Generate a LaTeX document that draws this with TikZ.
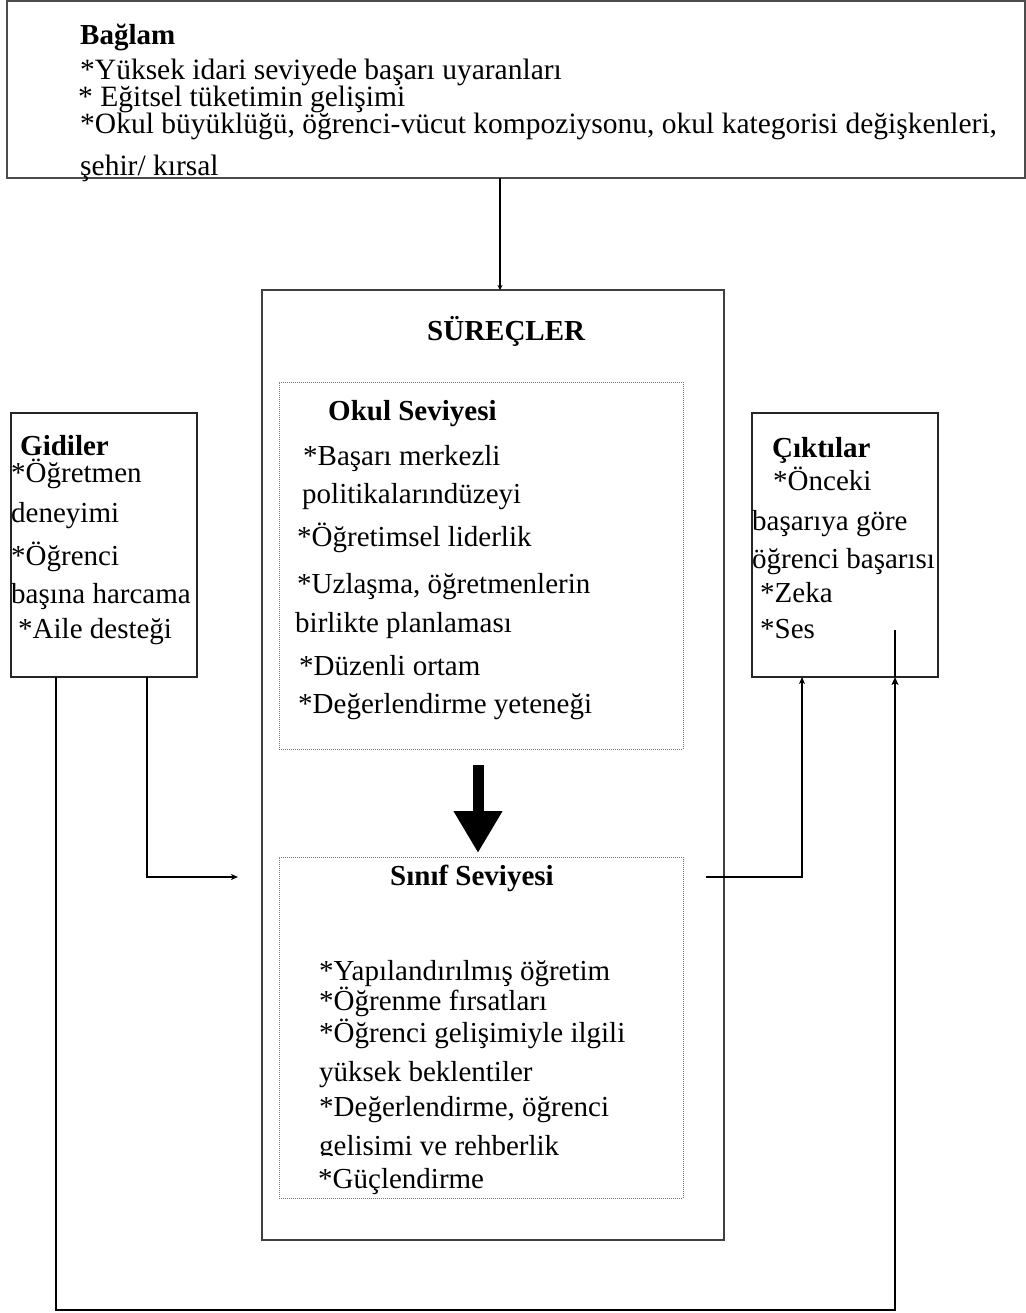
\documentclass[tikz,border=0pt]{standalone}
\usepackage{fontspec}
\setmainfont{Liberation Serif}
\usetikzlibrary{arrows.meta, positioning, calc}

\begin{document}
\begin{tikzpicture}[x=1pt, y=-1pt,
  frame/.style={draw=black!85, line width=1.2pt, outer sep=0pt, inner sep=0pt},
  dotbox/.style={draw=black!55, densely dotted, line width=1pt, outer sep=0pt, inner sep=0pt},
  item/.style={anchor=base west, inner sep=0pt, font=\fontsize{29}{35}\selectfont},
  head/.style={item, font=\fontsize{29}{35}\selectfont\bfseries},
  ctxitem/.style={item, font=\fontsize{29.5}{30}\selectfont},
  conn/.style={line width=1.4pt, -{Stealth[length=7pt, width=6pt, inset=2pt]}},
  loopline/.style={line width=2pt, -{Stealth[length=8pt, width=7pt, inset=2pt]}},
  bigarrow/.style={line width=11pt, -{Triangle[length=42pt, width=46pt]}},
]
\useasboundingbox (0,0) rectangle (1025,1313);

% frames
\node[frame, draw=black!70, minimum width=1018pt, minimum height=177pt] (ctx) at (516,89.5) {};
\node[frame, draw=black!75, line width=1.5pt, minimum width=462pt, minimum height=950pt] (proc) at (493,765) {};
\node[dotbox, minimum width=404pt, minimum height=367pt] (okul) at (481,565.5) {};
\node[dotbox, minimum width=404pt, minimum height=341pt] (sinif) at (481,1027.5) {};
\node[frame, minimum width=186pt, minimum height=264pt] (gid) at (104,545) {};
\node[frame, minimum width=186pt, minimum height=264pt] (cik) at (845,545) {};

% Baglam
\node[head, font=\fontsize{29}{30}\selectfont\bfseries] (ctx-h) at (80,45) {Bağlam};
\node[ctxitem] (ctx-1) at (80,80) {*Yüksek idari seviyede başarı uyaranları};
\node[ctxitem] (ctx-2) at (78,107) {* Eğitsel tüketimin gelişimi};
\node[ctxitem] (ctx-3) at (80,134) {*Okul büyüklüğü, öğrenci-vücut kompoziysonu, okul kategorisi değişkenleri,};
\node[ctxitem] (ctx-4) at (80,176) {şehir/ kırsal};

% Surecler
\node[head] (proc-h) at (427,340) {SÜREÇLER};

\node[head] (okul-h) at (328,420) {Okul Seviyesi};
\node[item] (okul-1) at (303,465) {*Başarı merkezli};
\node[item] (okul-2) at (302,503) {politikalarındüzeyi};
\node[item] (okul-3) at (297,546) {*Öğretimsel liderlik};
\node[item] (okul-4) at (297,593) {*Uzlaşma, öğretmenlerin};
\node[item] (okul-5) at (295,632) {birlikte planlaması};
\node[item] (okul-6) at (299,675) {*Düzenli ortam};
\node[item] (okul-7) at (298,713) {*Değerlendirme yeteneği};

\node[head] (sinif-h) at (390,885) {Sınıf Seviyesi};
\node[item] (sinif-1) at (319,980) {*Yapılandırılmış öğretim};
\node[item] (sinif-2) at (319,1010) {*Öğrenme fırsatları};
\node[item] (sinif-3) at (319,1042) {*Öğrenci gelişimiyle ilgili};
\node[item] (sinif-4) at (319,1081) {yüksek beklentiler};
\node[item] (sinif-5) at (319,1116) {*Değerlendirme, öğrenci};
\begin{scope}
  \clip (279,1120) rectangle (683,1155);
  \node[item] (sinif-6) at (319,1155) {gelisimi ve rehberlik};
\end{scope}
\node[item] (sinif-7) at (318,1188) {*Güçlendirme};

% Gidiler
\node[head] (gid-h) at (20,455) {Gidiler};
\node[item] (gid-1) at (11,482) {*Öğretmen};
\node[item] (gid-2) at (11,522) {deneyimi};
\node[item] (gid-3) at (11,565) {*Öğrenci};
\node[item] (gid-4) at (11,603) {başına harcama};
\node[item] (gid-5) at (18,638) {*Aile desteği};

% Ciktilar
\node[head] (cik-h) at (772,457) {Çıktılar};
\node[item] (cik-1) at (773,490) {*Önceki};
\node[item] (cik-2) at (752,530) {başarıya göre};
\node[item] (cik-3) at (752,568) {öğrenci başarısı};
\node[item] (cik-4) at (760,602) {*Zeka};
\node[item] (cik-5) at (760,638) {*Ses};

% connectors
\coordinate (in-end) at (238,877);
\coordinate (out-start) at (706,877);
\draw[conn, -{Stealth[length=5pt, width=5pt, inset=1.5pt]}] ([xshift=-16pt]ctx.south) -- ([xshift=7pt]proc.north);
\draw[bigarrow, shorten <=16pt, shorten >=4pt] ([xshift=-3pt]okul.south) -- ([xshift=-3pt]sinif.north);
\draw[conn] ([xshift=43pt]gid.south) |- (in-end);
\draw[conn] (out-start) -| ([xshift=-43pt]cik.south);
\draw[loopline] ([xshift=-48pt]gid.south) -- ++(0,633) -| ([xshift=50pt]cik.south);
\draw[line width=2pt] ([xshift=50pt]cik.south) -- ++(0,-47);
\end{tikzpicture}
\end{document}
